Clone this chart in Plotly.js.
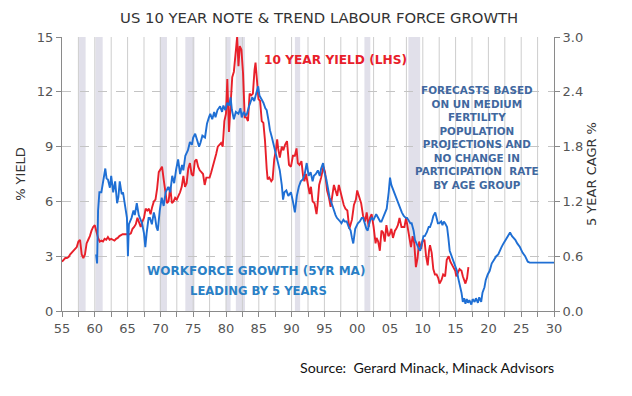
<!DOCTYPE html>
<html>
<head>
<meta charset="utf-8">
<script src="https://cdn.plot.ly/plotly-3.0.1.min.js"></script>
<style>html,body{margin:0;padding:0;background:#fff}#chart{width:632px;height:396px}</style>
</head>
<body>
<div id="chart"></div>
<script>
// 10 year yield (LHS, %)
const yieldYears = [1955.0,1955.25,1955.5,1955.75,1956.0,1956.25,1956.5,1956.75,1957.0,1957.25,1957.5,1957.75,1958.0,1958.25,1958.5,1958.75,1959.0,1959.25,1959.5,1959.75,1960.0,1960.25,1960.5,1960.75,1961.0,1961.25,1961.5,1961.75,1962.0,1962.25,1962.5,1962.75,1963.0,1963.25,1963.5,1963.75,1964.0,1964.25,1964.5,1964.75,1965.0,1965.25,1965.5,1965.75,1966.0,1966.25,1966.5,1966.75,1967.0,1967.25,1967.5,1967.75,1968.0,1968.25,1968.5,1968.75,1969.0,1969.25,1969.5,1969.75,1970.0,1970.25,1970.5,1970.75,1971.0,1971.25,1971.5,1971.75,1972.0,1972.25,1972.5,1972.75,1973.0,1973.25,1973.5,1973.75,1974.0,1974.25,1974.5,1974.75,1975.0,1975.25,1975.5,1975.75,1976.0,1976.25,1976.5,1976.75,1977.0,1977.25,1977.5,1977.75,1978.0,1978.25,1978.5,1978.75,1979.0,1979.25,1979.5,1979.75,1980.0,1980.2,1980.45,1980.7,1980.95,1981.2,1981.45,1981.7,1981.9,1982.1,1982.35,1982.6,1982.85,1983.1,1983.35,1983.6,1983.85,1984.1,1984.35,1984.5,1984.75,1984.95,1985.2,1985.45,1985.7,1985.95,1986.2,1986.35,1986.6,1986.9,1987.1,1987.35,1987.6,1987.8,1987.95,1988.2,1988.5,1988.75,1989.0,1989.3,1989.6,1989.9,1990.2,1990.5,1990.75,1990.95,1991.2,1991.5,1991.75,1991.95,1992.2,1992.5,1992.75,1992.95,1993.2,1993.5,1993.8,1993.95,1994.2,1994.5,1994.85,1995.1,1995.4,1995.7,1995.95,1996.2,1996.45,1996.7,1996.95,1997.2,1997.45,1997.75,1997.95,1998.2,1998.5,1998.8,1998.95,1999.2,1999.5,1999.8,2000.0,2000.3,2000.6,2000.9,2001.2,2001.45,2001.75,2001.95,2002.2,2002.5,2002.8,2002.95,2003.2,2003.45,2003.7,2003.95,2004.2,2004.45,2004.75,2004.95,2005.2,2005.45,2005.75,2005.95,2006.2,2006.45,2006.75,2006.95,2007.2,2007.45,2007.75,2007.95,2008.2,2008.45,2008.7,2008.95,2009.2,2009.45,2009.75,2009.95,2010.25,2010.5,2010.75,2010.95,2011.1,2011.35,2011.6,2011.85,2012.1,2012.35,2012.55,2012.85,2013.1,2013.4,2013.65,2013.95,2014.2,2014.5,2014.8,2014.95,2015.1,2015.4,2015.6,2015.9,2016.1,2016.5,2016.75,2016.95];
const yieldValues = [2.7,2.8,2.9,2.9,2.95,3.1,3.2,3.35,3.4,3.5,3.8,3.9,3.1,2.9,3.1,3.7,3.9,4.1,4.4,4.6,4.7,4.3,4.0,3.8,3.85,3.8,3.95,3.9,4.05,3.9,3.95,3.9,3.85,3.95,4.0,4.1,4.15,4.2,4.2,4.2,4.2,4.2,4.25,4.5,4.6,4.75,5.1,4.8,4.6,4.9,5.1,5.6,5.5,5.6,5.3,5.7,6.0,6.1,6.7,7.6,7.8,7.9,7.2,6.4,5.9,6.0,6.8,5.9,6.0,6.2,6.1,6.3,6.5,6.8,7.4,6.8,7.0,7.8,8.1,7.5,7.4,8.2,8.3,7.9,7.7,7.6,7.5,6.9,7.3,7.3,7.3,7.6,7.9,8.3,8.6,9.0,9.1,9.2,9.0,10.4,10.8,12.7,9.8,11.6,12.8,13.1,13.9,15.0,13.4,14.5,14.3,13.0,10.6,10.6,10.4,11.9,11.8,11.9,13.2,13.6,12.5,11.6,11.5,10.4,10.3,9.3,7.8,7.2,7.3,7.1,7.2,8.3,8.8,9.4,8.9,8.4,9.0,8.8,9.1,9.3,8.0,7.9,8.5,8.5,8.9,8.1,8.0,8.2,7.4,7.1,7.5,7.0,6.4,6.8,6.0,5.9,5.3,5.8,6.9,7.3,7.9,7.6,6.6,6.2,5.7,6.3,6.9,6.6,6.3,6.9,6.5,6.0,5.8,5.6,5.5,4.5,4.7,5.0,5.8,6.1,6.6,6.2,5.9,5.2,4.9,5.4,4.6,5.1,5.3,4.6,3.7,4.0,3.8,3.3,4.4,4.3,3.8,4.7,4.1,4.2,4.5,4.0,4.4,4.5,4.7,5.1,4.6,4.6,4.6,5.1,4.5,4.1,3.5,4.1,3.7,2.4,2.9,3.8,3.4,3.8,3.9,3.0,2.5,3.3,3.6,3.2,2.3,2.0,2.0,1.8,1.5,1.7,2.0,1.9,2.8,3.0,2.7,2.5,2.3,2.2,1.9,2.2,2.3,2.2,1.9,1.5,1.8,2.4];

// Workforce growth, 5yr MA, leading by 5 years (RHS, % CAGR)
const workforceYears = [1960.2,1960.35,1960.5,1960.7,1961.0,1961.3,1961.6,1961.8,1962.0,1962.3,1962.5,1962.8,1963.1,1963.4,1963.6,1963.8,1964.1,1964.3,1964.6,1964.9,1965.05,1965.2,1965.6,1965.9,1966.1,1966.4,1966.7,1967.0,1967.2,1967.5,1967.7,1967.9,1968.2,1968.4,1968.7,1969.0,1969.2,1969.4,1969.6,1969.9,1970.2,1970.5,1970.8,1971.2,1971.5,1971.8,1972.1,1972.4,1972.7,1973.0,1973.3,1973.5,1973.8,1974.2,1974.5,1974.8,1975.0,1975.3,1975.6,1975.9,1976.1,1976.4,1976.8,1977.1,1977.4,1977.6,1977.9,1978.2,1978.4,1978.7,1979.1,1979.4,1979.6,1979.9,1980.2,1980.5,1980.7,1980.9,1981.2,1981.5,1981.9,1982.2,1982.4,1982.7,1983.0,1983.2,1983.5,1983.8,1984.0,1984.3,1984.5,1984.9,1985.1,1985.4,1985.7,1986.0,1986.2,1986.5,1986.7,1987.0,1987.2,1987.5,1987.7,1988.0,1988.2,1988.5,1988.7,1988.9,1989.2,1989.5,1989.9,1990.2,1990.5,1990.8,1991.1,1991.4,1991.7,1992.0,1992.3,1992.6,1992.9,1993.2,1993.4,1993.7,1994.0,1994.3,1994.5,1994.8,1995.0,1995.3,1995.6,1995.8,1996.1,1996.4,1996.7,1996.9,1997.2,1997.4,1997.6,1997.9,1998.1,1998.4,1998.7,1999.0,1999.2,1999.4,1999.7,2000.1,2000.4,2000.7,2000.9,2001.2,2001.4,2001.6,2001.9,2002.2,2002.5,2002.9,2003.2,2003.5,2003.7,2004.0,2004.3,2004.5,2004.8,2005.0,2005.2,2005.5,2005.8,2006.0,2006.3,2006.6,2006.8,2007.1,2007.4,2007.6,2007.9,2008.1,2008.3,2008.6,2008.8,2009.1,2009.4,2009.6,2009.9,2010.1,2010.3,2010.6,2010.9,2011.1,2011.4,2011.6,2011.9,2012.1,2012.3,2012.5,2012.8,2013.0,2013.2,2013.4,2013.7,2013.9,2014.1,2014.4,2014.6,2014.9,2015.2,2015.4,2015.6,2015.9,2016.1,2016.3,2016.5,2016.7,2016.9,2017.1,2017.4,2017.6,2017.9,2018.1,2018.4,2018.6,2018.9,2019.1,2019.4,2019.6,2019.9,2020.2,2020.5,2020.8,2021.2,2021.5,2021.8,2022.0,2022.3,2022.6,2022.8,2023.1,2023.3,2023.6,2023.9,2024.1,2024.4,2024.8,2025.2,2025.6,2026.0,2026.3,2030.0];
const workforceValues = [0.62,0.52,1.1,1.3,1.3,1.45,1.56,1.45,1.44,1.35,1.48,1.30,1.42,1.18,1.25,1.42,1.28,1.30,1.15,1.02,0.60,0.95,1.02,1.10,1.05,1.18,1.05,1.00,0.96,0.85,0.70,0.85,1.02,1.02,0.95,1.08,1.02,0.92,0.88,1.10,1.24,1.15,1.30,1.36,1.30,1.48,1.40,1.55,1.66,1.50,1.60,1.54,1.70,1.76,1.85,1.82,1.90,1.94,1.88,1.80,1.84,1.92,1.90,2.05,2.12,2.16,2.10,2.18,2.12,2.20,2.24,2.18,2.25,2.20,2.28,2.25,2.34,2.20,2.10,2.18,2.16,2.22,2.12,2.18,2.14,2.16,2.24,2.30,2.34,2.30,2.36,2.46,2.36,2.32,2.28,2.22,2.20,2.08,1.98,1.90,1.84,1.75,1.66,1.60,1.54,1.38,1.22,1.30,1.32,1.26,1.30,1.20,1.08,1.26,1.36,1.42,1.44,1.50,1.62,1.48,1.52,1.42,1.48,1.50,1.54,1.48,1.56,1.62,1.52,1.44,1.30,1.24,1.18,1.10,1.05,1.02,1.00,0.98,0.96,1.00,0.98,0.98,0.92,0.88,0.80,0.74,0.90,0.96,0.98,1.02,1.02,0.94,0.90,0.88,0.98,1.02,1.00,1.06,1.02,0.98,0.98,1.04,1.08,1.12,1.30,1.46,1.38,1.32,1.26,1.22,1.16,1.10,1.08,1.04,1.02,1.02,0.98,0.96,0.96,0.88,0.78,0.72,0.68,0.66,0.76,0.82,0.82,0.86,0.92,0.92,0.98,1.04,1.08,1.02,0.96,0.96,0.98,0.94,0.98,0.96,0.92,0.80,0.66,0.60,0.56,0.50,0.44,0.36,0.30,0.20,0.10,0.14,0.08,0.13,0.09,0.12,0.07,0.13,0.10,0.14,0.09,0.15,0.10,0.20,0.26,0.34,0.40,0.44,0.52,0.56,0.60,0.62,0.68,0.70,0.74,0.78,0.80,0.84,0.86,0.82,0.80,0.78,0.74,0.70,0.64,0.60,0.54,0.53,0.53];

// US recessions (start, end)
const recessionStarts = [1957.6,1960.1,1969.9,1973.8,1980.0,1981.5,1990.5,2001.1,2007.8];
const recessionEnds   = [1958.6,1961.2,1971.0,1975.2,1980.7,1982.9,1991.3,2002.0,2009.6];

// X tick labels (ticks every 2.5 years, labels every 5)
const xTickVals = [];
const xTickText = [];
for (let y = 1955; y <= 2030; y += 2.5) {
  xTickVals.push(y);
  xTickText.push(Number.isInteger(y) ? String(y % 100).padStart(2, '0') : '');
}

const shapes = recessionStarts.map((s, i) => ({
  type: 'rect', xref: 'x', yref: 'paper', x0: s, x1: recessionEnds[i], y0: 0, y1: 1,
  fillcolor: '#e1e0ea', line: {width: 0}, layer: 'below'
})).concat(xTickVals.slice(1, -1).map(v => ({
  type: 'line', xref: 'x', yref: 'paper', x0: v, x1: v, y0: 0, y1: 1,
  line: {color: '#cdcdcd', width: 1}, layer: 'below'
})));

const traces = [
  {x: yieldYears, y: yieldValues, type: 'scatter', mode: 'lines', name: '10 year yield',
   line: {color: '#e8202a', width: 1.9}, yaxis: 'y'},
  {x: workforceYears, y: workforceValues, type: 'scatter', mode: 'lines', name: 'Workforce growth',
   line: {color: '#1f6fd4', width: 1.9}, yaxis: 'y2'}
];

const tickFont = {family: 'DejaVu Sans, Verdana, sans-serif', size: 13, color: '#555'};
const layout = {
  width: 632, height: 396,
  margin: {l: 62, r: 78, t: 37, b: 85},
  paper_bgcolor: '#ffffff', plot_bgcolor: '#ffffff',
  showlegend: false,
  title: {text: 'US 10 YEAR NOTE &amp; TREND LABOUR FORCE GROWTH',
          font: {family: 'DejaVu Sans, Verdana, sans-serif', size: 14.8, color: '#333'},
          x: 0.505, xanchor: 'center', y: 0.955, yanchor: 'middle'},
  xaxis: {range: [1955, 2030], tickvals: xTickVals, ticktext: xTickText,
          showgrid: false,
          showline: true, linecolor: '#8a8a8a', linewidth: 1,
          ticks: 'outside', ticklen: 5, tickcolor: '#8a8a8a',
          tickfont: tickFont, zeroline: false},
  yaxis: {range: [0, 15], dtick: 3, showgrid: true, gridcolor: '#c4c4c4', griddash: 'dash',
          showline: true, linecolor: '#8a8a8a', linewidth: 1,
          ticks: 'outside', ticklen: 5, tickcolor: '#8a8a8a', tickfont: tickFont, zeroline: false,
          title: {text: '% YIELD', font: {family: 'DejaVu Sans, Verdana, sans-serif', size: 13, color: '#333'}, standoff: 8}},
  yaxis2: {range: [0, 3], dtick: 0.6, tickformat: '.1f', overlaying: 'y', side: 'right',
           showgrid: false, showline: true, linecolor: '#8a8a8a', linewidth: 1,
           ticks: 'outside', ticklen: 5, tickcolor: '#8a8a8a', tickfont: tickFont, zeroline: false,
           title: {text: '5 YEAR CAGR %', font: {family: 'DejaVu Sans, Verdana, sans-serif', size: 13, color: '#333'}, standoff: 4}},
  shapes: shapes,
  annotations: [
    {text: '<b>10 YEAR YIELD (LHS)</b>', xref: 'paper', yref: 'paper', x: (335-62)/492, y: (311-60)/274,
     xanchor: 'center', yanchor: 'middle', showarrow: false,
     font: {family: 'DejaVu Sans, Verdana, sans-serif', size: 12.2, color: '#e8202a'}},
    {text: '<b>FORECASTS BASED<br>ON UN MEDIUM<br>FERTILITY<br>POPULATION<br>PROJECTIONS AND<br>NO CHANGE IN<br>PARTICIPATION  RATE<br>BY AGE GROUP</b>',
     xref: 'paper', yref: 'paper', x: (477-62)/492, y: (311-137)/274, xanchor: 'center', yanchor: 'middle',
     align: 'center', showarrow: false,
     font: {family: 'DejaVu Sans, Verdana, sans-serif', size: 10.4, color: '#41689f'}},
    {text: '<b>WORKFORCE GROWTH (5YR MA)</b>', xref: 'paper', yref: 'paper', x: (256-62)/492, y: (311-271)/274,
     xanchor: 'center', yanchor: 'middle', showarrow: false,
     font: {family: 'DejaVu Sans, Verdana, sans-serif', size: 12, color: '#2a80c6'}},
    {text: '<b>LEADING BY 5 YEARS</b>', xref: 'paper', yref: 'paper', x: (258-62)/492, y: (311-291)/274,
     xanchor: 'center', yanchor: 'middle', showarrow: false,
     font: {family: 'DejaVu Sans, Verdana, sans-serif', size: 11.6, color: '#2a80c6'}},
    {text: 'Source:  Gerard Minack, Minack Advisors', xref: 'paper', yref: 'paper',
     x: (298-62)/492, y: -(367-311)/274, xanchor: 'left', yanchor: 'middle', showarrow: false,
     font: {family: 'Lato, Carlito, sans-serif', size: 14.2, color: '#111'}}
  ]
};

Plotly.newPlot('chart', traces, layout, {displayModeBar: false, staticPlot: true});
</script>
</body>
</html>
